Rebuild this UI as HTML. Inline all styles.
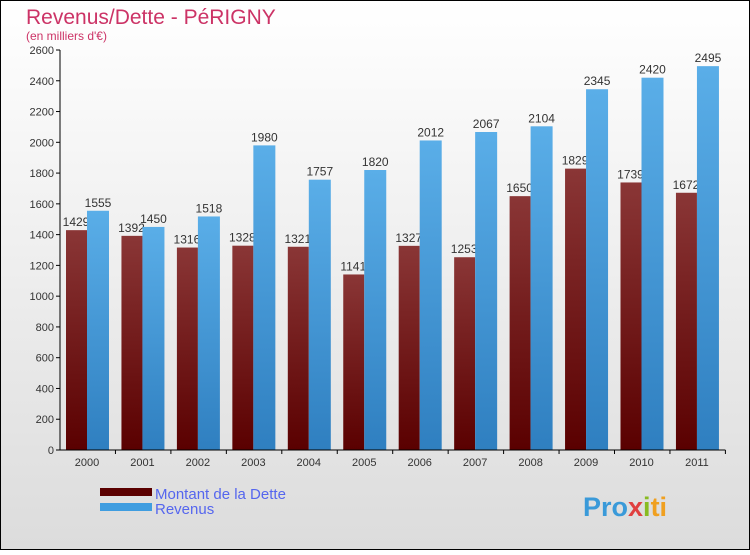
<!DOCTYPE html>
<html><head><meta charset="utf-8"><style>
body{margin:0;width:750px;height:550px;overflow:hidden;font-family:"Liberation Sans",sans-serif}
svg text{font-family:"Liberation Sans",sans-serif}
</style></head><body>
<svg width="750" height="550" xmlns="http://www.w3.org/2000/svg">
<defs>
<linearGradient id="bg" x1="0" y1="0" x2="0" y2="1"><stop offset="0" stop-color="#ffffff"/><stop offset="1" stop-color="#dcdcdc"/></linearGradient>
<linearGradient id="gd" x1="0" y1="0" x2="0" y2="1"><stop offset="0" stop-color="#8a3636"/><stop offset="1" stop-color="#5a0000"/></linearGradient>
<linearGradient id="gr" x1="0" y1="0" x2="0" y2="1"><stop offset="0" stop-color="#5aaee8"/><stop offset="1" stop-color="#2f7fc0"/></linearGradient>
</defs>
<rect x="0.5" y="0.5" width="749" height="549" fill="url(#bg)" stroke="#000"/>
<text x="26" y="24" font-size="21" fill="#cc3366">Revenus/Dette - PéRIGNY</text>
<text x="26" y="40" font-size="12" fill="#cc3366">(en milliers d'€)</text>
<g id="plot"></g>
<g>
<rect x="100" y="488" width="52" height="8" fill="#5a0000"/>
<text x="155" y="499" font-size="15" fill="#5566ee">Montant de la Dette</text>
<rect x="100" y="503" width="52" height="8" fill="#3f9de0"/>
<text x="155" y="514" font-size="15" fill="#5566ee">Revenus</text>
</g>
<text x="583" y="516" font-size="27" font-weight="bold" fill="#f0a020"><tspan fill="#3a9ad9">Pro</tspan><tspan fill="#e04040">x</tspan><tspan fill="#88bb22">i</tspan><tspan fill="#f0a020">ti</tspan></text>
</svg>
<script>
const years=["2000","2001","2002","2003","2004","2005","2006","2007","2008","2009","2010","2011"];
const dette=[1429,1392,1316,1328,1321,1141,1327,1253,1650,1829,1739,1672];
const revenus=[1555,1450,1518,1980,1757,1820,2012,2067,2104,2345,2420,2495];
const ticks=[0,200,400,600,800,1000,1200,1400,1600,1800,2000,2200,2400,2600];
const NS="http://www.w3.org/2000/svg";
const g=document.getElementById('plot');
const x0=60,step=55.45,yB=450,yT=50,vMax=2600;
const y=v=>yB-(v/vMax)*(yB-yT);
function mk(t,a){const e=document.createElementNS(NS,t);for(const k in a)e.setAttribute(k,a[k]);g.appendChild(e);return e;}
ticks.forEach(t=>{
 const l=mk('line',{x1:x0-4,x2:x0,y1:y(t),y2:y(t),stroke:'#000'});
 
 
 const tx=mk('text',{x:x0-6,y:y(t)+4,'font-size':11,'text-anchor':'end',fill:'#333'});
 tx.textContent=t;
 
 
});
years.forEach((yr,i)=>{
 const gx=x0+i*step;
 const dl=mk('text',{x:gx+16,y:y(dette[i])-4,'font-size':12,'text-anchor':'middle',fill:'#333'});
 dl.textContent=dette[i];
 
 
 const d=mk('rect',{x:gx+6,y:y(dette[i]),width:21,height:yB-y(dette[i]),fill:'url(#gd)'});
 
 
 const r=mk('rect',{x:gx+27,y:y(revenus[i]),width:22,height:yB-y(revenus[i]),fill:'url(#gr)'});
 
 
 const rl=mk('text',{x:gx+38,y:y(revenus[i])-4,'font-size':12,'text-anchor':'middle',fill:'#333'});
 rl.textContent=revenus[i];
 
 
 const xl=mk('text',{x:gx+27,y:466,'font-size':11,'text-anchor':'middle',fill:'#333'});
 xl.textContent=yr;
 
 
 const xt=mk('line',{x1:gx+step,x2:gx+step,y1:yB,y2:yB+4,stroke:'#000'});
 
 
});
const ya=mk('line',{x1:x0,x2:x0,y1:yT,y2:yB,stroke:'#000'});


const xa=mk('line',{x1:x0,x2:x0+12*step,y1:yB,y2:yB,stroke:'#000'});


</script>
</body></html>
